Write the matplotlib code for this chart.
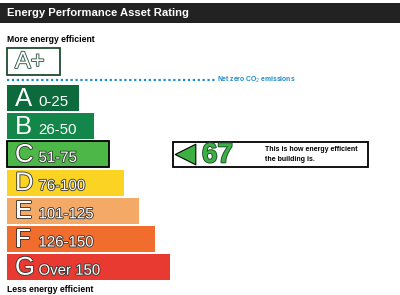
import matplotlib
matplotlib.use("Agg")
import matplotlib.pyplot as plt
import matplotlib.patheffects as pe

# band data
letters = ['A', 'B', 'C', 'D', 'E', 'F', 'G']
ranges = ['0-25', '26-50', '51-75', '76-100', '101-125', '126-150', 'Over 150']
bar_len = [72, 87, 102, 117, 132, 148, 163]
colours = ['#0d6a3c', '#128749', '#4db848', '#fbd322', '#f4aa66', '#f06d2d', '#e83a30']
rating = 67
rating_band = 2  # C

plt.rcParams['font.family'] = ['Liberation Sans', 'DejaVu Sans']

fig = plt.figure(figsize=(4, 2.95), dpi=100)
ax = fig.add_axes([0, 0, 1, 1])
ax.set_xlim(0, 400)
ax.set_ylim(295, 0)
ax.axis('off')

outline = [pe.withStroke(linewidth=1.2, foreground='#333333')]

# header
ax.barh(13, 400, height=20, left=0, color='#222222')
ax.text(7, 13.5, 'Energy Performance Asset Rating', color='white', fontsize=8.1,
        fontweight='bold', va='center', ha='left')

ax.text(7, 39, 'More energy efficient', fontsize=6.2, fontweight='bold', va='center')

# A+ box
ax.barh(61.5, 53, height=27, left=7, color='white', edgecolor='#1f4a30', linewidth=1.3)
ax.text(15, 62, 'A+', fontsize=17, color='white', va='center', ha='left',
        path_effects=[pe.withStroke(linewidth=1.3, foreground='#2f5a40')])

# net zero line
ax.plot([7, 215], [80, 80], color='#1a8cc8', linestyle=(0, (1, 1.2)), linewidth=1.6)
ax.text(217, 79.5, 'Net zero CO$_2$ emissions', color='#1a8cc8', fontsize=4.9,
        fontweight='bold', va='center')

# bands
ys = [98 + 28.2 * i for i in range(len(letters))]
for i, (l, r, w, c, y) in enumerate(zip(letters, ranges, bar_len, colours, ys)):
    ec = 'black' if i == rating_band else 'none'
    ax.barh(y, w, height=26, left=7, color=c, edgecolor=ec, linewidth=1.3)
    eff = outline if i >= 2 else None
    ax.text(15, y + 0.5, l, fontsize=18.5, color='white', va='center', ha='left',
            path_effects=eff)
    ax.text(38.5, y + 3.5, r, fontsize=10.8, color='white', va='center', ha='left',
            path_effects=eff)

ax.text(7, 289, 'Less energy efficient', fontsize=6.2, fontweight='bold', va='center')

# rating indicator
yc = ys[rating_band]
ax.barh(yc, 195, height=25, left=173, color='white', edgecolor='black', linewidth=1.3)
ax.scatter([184.5], [yc], marker='<', s=220, color='#3cb043', edgecolor='black',
           linewidths=0.8, zorder=3)
ax.text(202, yc + 1, str(rating), fontsize=20, fontweight='bold', color='#3cb043',
        va='center', ha='left',
        path_effects=[pe.withStroke(linewidth=1.3, foreground='#1f4a30')])
ax.text(265, yc - 5, 'This is how energy efficient', fontsize=5, fontweight='bold',
        va='center')
ax.text(265, yc + 5, 'the building is.', fontsize=5, fontweight='bold', va='center')

fig.savefig('out.png', dpi=100)
